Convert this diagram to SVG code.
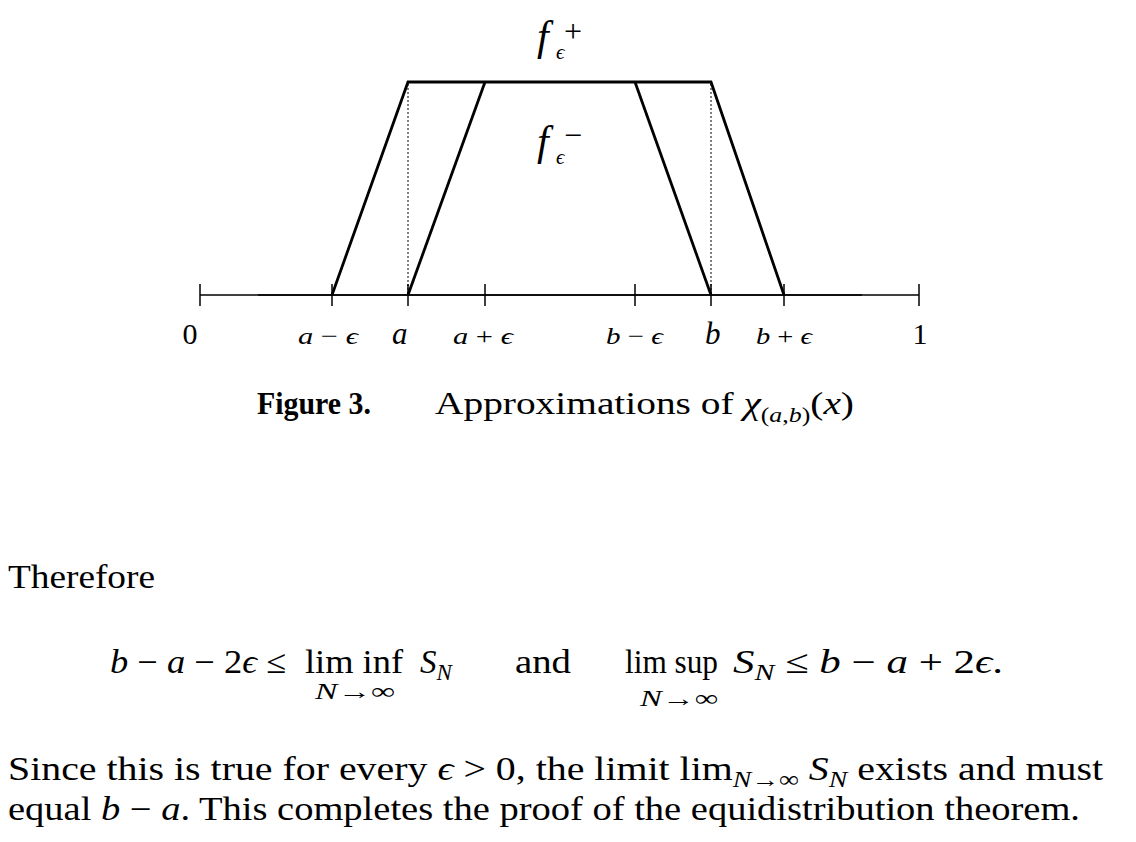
<svg xmlns="http://www.w3.org/2000/svg" width="1136" height="842" viewBox="0 0 1136 842">
<style>
.t{font-family:"Liberation Serif","DejaVu Serif",serif;fill:#000}
.i{font-style:italic}
.b{font-weight:bold}
.thick{stroke:#000;stroke-width:2.8;fill:none;stroke-linejoin:miter}
.axis{stroke:#000;stroke-width:1.5;fill:none}
.dot{stroke:#000;stroke-width:1;stroke-dasharray:2 2;fill:none}
</style>
<rect width="1136" height="842" fill="#fff"/>
<g id="axis">
<line class="axis" x1="200" y1="295" x2="919" y2="295"/>
<line class="axis" x1="258" y1="295" x2="862" y2="295" stroke-width="1.8"/>
<g class="axis">
<line x1="200" y1="284" x2="200" y2="306"/>
<line x1="332" y1="284" x2="332" y2="306"/>
<line x1="408" y1="284" x2="408" y2="306"/>
<line x1="485" y1="284" x2="485" y2="306"/>
<line x1="635" y1="284" x2="635" y2="306"/>
<line x1="711" y1="284" x2="711" y2="306"/>
<line x1="784" y1="284" x2="784" y2="306"/>
<line x1="919" y1="284" x2="919" y2="306"/>
</g>
</g>
<g id="connectors">
<polyline id="f-plus" class="thick" points="332,295 408,82 711,82 784,295"/>
<line id="f-minus-left" class="thick" x1="408" y1="295" x2="485" y2="82"/>
<line id="f-minus-right" class="thick" x1="635" y1="82" x2="711" y2="295"/>
<line class="dot" x1="408" y1="84" x2="408" y2="295"/>
<line class="dot" x1="711" y1="84" x2="711" y2="295"/>
</g>
<g id="label-fplus">
<text class="t" x="537" y="50" font-size="42"><tspan class="i">f</tspan><tspan class="i" font-size="21" x="556" y="59">ϵ</tspan><tspan font-size="32" x="564" y="42">+</tspan></text>
</g>
<g id="label-fminus">
<text class="t" x="537" y="155" font-size="42"><tspan class="i">f</tspan><tspan class="i" font-size="21" x="556" y="164">ϵ</tspan><tspan font-size="32" x="564" y="146">−</tspan></text>
</g>
<g id="ticklabels">
<text class="t" x="190" y="344" font-size="30" text-anchor="middle">0</text>
<text class="t" x="298" y="344" font-size="24" textLength="60" lengthAdjust="spacingAndGlyphs"><tspan class="i">a</tspan> − <tspan class="i">ϵ</tspan></text>
<text class="t i" x="392" y="344" font-size="31">a</text>
<text class="t" x="453" y="344" font-size="24" textLength="60" lengthAdjust="spacingAndGlyphs"><tspan class="i">a</tspan> + <tspan class="i">ϵ</tspan></text>
<text class="t" x="606" y="344" font-size="24" textLength="57" lengthAdjust="spacingAndGlyphs"><tspan class="i">b</tspan> − <tspan class="i">ϵ</tspan></text>
<text class="t i" x="705" y="344" font-size="31">b</text>
<text class="t" x="756" y="344" font-size="24" textLength="56" lengthAdjust="spacingAndGlyphs"><tspan class="i">b</tspan> + <tspan class="i">ϵ</tspan></text>
<text class="t" x="920" y="344" font-size="30" text-anchor="middle">1</text>
</g>
<g id="caption">
<text class="t b" x="257" y="414" font-size="32" textLength="114" lengthAdjust="spacingAndGlyphs">Figure 3.</text>
<text class="t" x="435" y="414" font-size="32" textLength="419" lengthAdjust="spacingAndGlyphs">Approximations of <tspan class="i">χ</tspan><tspan font-size="21" dy="8">(<tspan class="i">a</tspan>,<tspan class="i">b</tspan>)</tspan><tspan dy="-8">(<tspan class="i">x</tspan>)</tspan></text>
</g>
<g id="text-therefore">
<text class="t" x="8" y="588" font-size="33" textLength="147" lengthAdjust="spacingAndGlyphs">Therefore</text>
</g>
<g id="equation">
<text class="t" x="110" y="673" font-size="33" textLength="176" lengthAdjust="spacingAndGlyphs"><tspan class="i">b</tspan> − <tspan class="i">a</tspan> − 2<tspan class="i">ϵ</tspan> ≤</text>
<text class="t" x="305" y="673" font-size="33" textLength="98" lengthAdjust="spacingAndGlyphs">lim inf</text>
<text class="t" x="315" y="699" font-size="23" textLength="80" lengthAdjust="spacingAndGlyphs"><tspan class="i">N</tspan>→∞</text>
<text class="t i" x="420" y="673" font-size="33">S<tspan font-size="23" dy="7">N</tspan></text>
<text class="t" x="515" y="673" font-size="33" textLength="56" lengthAdjust="spacingAndGlyphs">and</text>
<text class="t" x="625" y="673" font-size="33" textLength="93" lengthAdjust="spacingAndGlyphs">lim sup</text>
<text class="t" x="640" y="706" font-size="23" textLength="78" lengthAdjust="spacingAndGlyphs"><tspan class="i">N</tspan>→∞</text>
<text class="t" x="733" y="673" font-size="33" textLength="270" lengthAdjust="spacingAndGlyphs"><tspan class="i">S</tspan><tspan class="i" font-size="23" dy="7">N</tspan><tspan dy="-7"> ≤ </tspan><tspan class="i">b</tspan> − <tspan class="i">a</tspan> + 2<tspan class="i">ϵ</tspan>.</text>
</g>
<g id="text-conclusion">
<text class="t" x="8" y="780" font-size="33" textLength="1095" lengthAdjust="spacingAndGlyphs">Since this is true for every <tspan class="i">ϵ</tspan> &gt; 0, the limit lim<tspan font-size="23" dy="7"><tspan class="i">N</tspan>→∞</tspan><tspan dy="-7"> </tspan><tspan class="i">S</tspan><tspan class="i" font-size="23" dy="7">N</tspan><tspan dy="-7"> exists and must</tspan></text>
<text class="t" x="8" y="820" font-size="33" textLength="1072" lengthAdjust="spacingAndGlyphs">equal <tspan class="i">b</tspan> − <tspan class="i">a</tspan>. This completes the proof of the equidistribution theorem.</text>
</g>
</svg>
